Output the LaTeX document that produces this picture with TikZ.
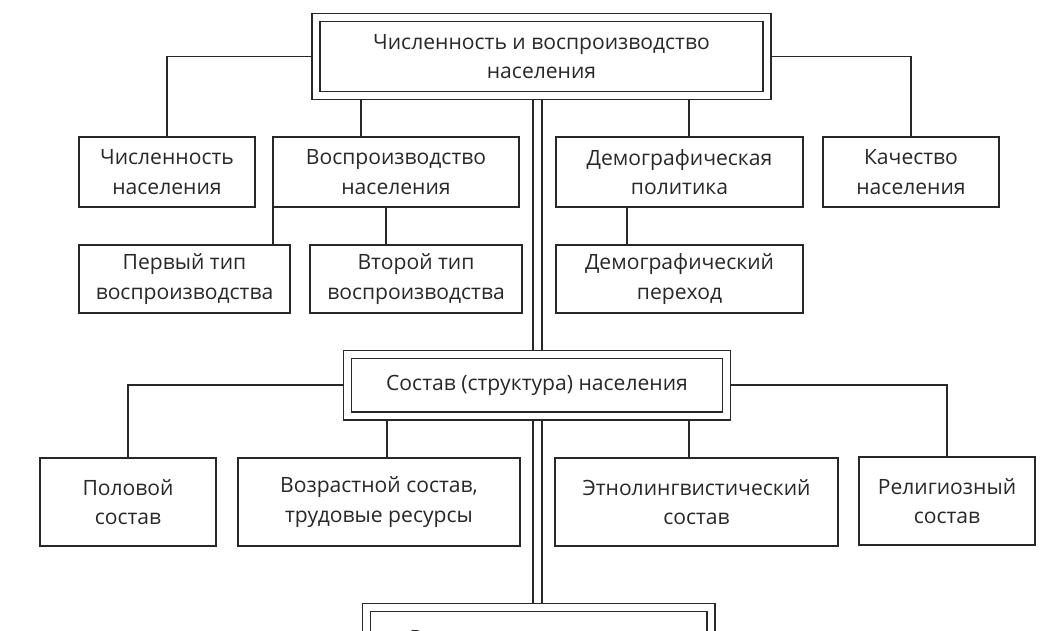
\documentclass[tikz,border=0pt]{standalone}
\usepackage{fontspec}
\setmainfont{Open Sans}
\usetikzlibrary{positioning}
\definecolor{inkgray}{RGB}{40, 40, 40}
\tikzset{
    box/.style={
        rectangle,
        draw=inkgray,
        line width=0.4mm,
        minimum height=17.5mm,
        align=center,
        text=inkgray,
        font=\fontsize{15}{21}\selectfont,
        inner sep=1pt
    },
    dbox/.style={
        box,
        double,
        double distance=1.6mm,
        outer sep=1.2mm
    },
    link/.style={
        draw=inkgray,
        line width=0.4mm
    },
    trunk/.style={
        link,
        double,
        double distance=1.85mm
    }
}

\begin{document}
\begin{tikzpicture}[x=0.25mm, y=-0.25mm]
    \useasboundingbox (0,0) rectangle (1055,630);
    \clip (0,0) rectangle (1055,630);

    % the three main headings sit on the central double trunk
    \node[dbox, minimum width=112.75mm, minimum height=19.5mm] (top) at (541.5,56.5)
        {Численность и воспроизводство\\населения};
    \node[dbox, minimum width=94.75mm, minimum height=15.4mm] (sostav) at (537,385.25)
        {Состав (структура) населения};
    \node[dbox, minimum width=86.1mm, minimum height=22.5mm] (razm) at (538.75,652.5)
        {Размещение и миграции\\населения};

    % first block
    \node[box, minimum width=44mm]    (chisl)  at (167,172)   {Численность\\населения};
    \node[box, minimum width=61.5mm]  (vospr)  at (396,172)   {Воспроизводство\\населения};
    \node[box, minimum width=61.75mm] (dempol) at (679.5,172) {Демографическая\\политика};
    \node[box, minimum width=44mm]    (kach)   at (911,172)   {Качество\\населения};
    \node[box, minimum width=52.75mm, minimum height=17mm] (perv)   at (184.5,279) {Первый тип\\воспроизводства};
    \node[box, minimum width=53mm,    minimum height=17mm] (vtor)   at (416,279)   {Второй тип\\воспроизводства};
    \node[box, minimum width=61.75mm, minimum height=17mm] (demper) at (679.5,279) {Демографический\\переход};

    % second block
    \node[box, minimum width=44mm,    minimum height=22mm] (polov) at (128,502)   {Половой\\состав};
    \node[box, minimum width=70.5mm,  minimum height=22mm] (vozr)  at (379,502)   {Возрастной состав,\\трудовые ресурсы};
    \node[box, minimum width=70.75mm, minimum height=22mm] (etno)  at (696.5,502) {Этнолингвистический\\состав};
    \node[box, minimum width=44mm,    minimum height=22mm] (relig) at (947,501)   {Религиозный\\состав};

    % drop points of the vertical links
    \coordinate (tx) at (537.5,0);
    \coordinate (dv) at (361,0);
    \coordinate (dp) at (689,0);
    \coordinate (pv) at (273,0);
    \coordinate (vt) at (386,0);
    \coordinate (dd) at (627,0);
    \coordinate (vz) at (387,0);
    \coordinate (et) at (689,0);

    \draw[trunk] (tx |- top.south) -- (tx |- sostav.north);
    \draw[trunk] (tx |- sostav.south) -- (tx |- razm.north);

    \draw[link] (top.west) -| (chisl.north);
    \draw[link] (top.east) -| (kach.north);
    \draw[link] (dv |- top.south) -- (dv |- vospr.north);
    \draw[link] (dp |- top.south) -- (dp |- dempol.north);
    \draw[link] (pv |- vospr.south) -- (pv |- perv.north);
    \draw[link] (vt |- vospr.south) -- (vt |- vtor.north);
    \draw[link] (dd |- dempol.south) -- (dd |- demper.north);

    \draw[link] (sostav.west) -| (polov.north);
    \draw[link] (sostav.east) -| (relig.north);
    \draw[link] (vz |- sostav.south) -- (vz |- vozr.north);
    \draw[link] (et |- sostav.south) -- (et |- etno.north);
\end{tikzpicture}
\end{document}
